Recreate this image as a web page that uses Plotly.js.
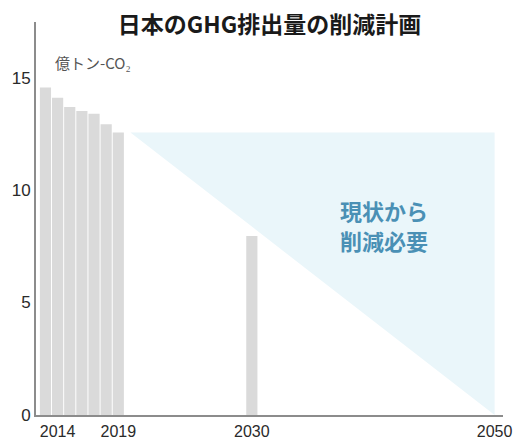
<!DOCTYPE html>
<html>
<head>
<meta charset="utf-8">
<script src="https://cdn.plot.ly/plotly-3.0.1.min.js"></script>
<style>html,body{margin:0;padding:0;background:#fff;}#chart{width:515px;height:441px;}</style>
</head>
<body>
<div id="chart"></div>
<script>
// Emissions (億トン-CO2)
const barYears = [2013, 2014, 2015, 2016, 2017, 2018, 2019, 2030];
const barValues = [14.56, 14.10, 13.69, 13.51, 13.39, 12.93, 12.56, 7.96];
// Reduction-needed wedge: from current level down to zero in 2050
const wedgeYears = [2020, 2050, 2050];
const wedgeValues = [12.56, 12.56, 0];
const xTickVals = [2014, 2019, 2030, 2050];
const xTickText = ['2014', '2019', '2030', '2050'];
const yTickVals = [0, 5, 10, 15];

const titleText = '日本のGHG排出量の削減計画';
const unitText = '億トン-CO₂';
const wedgeLines = ['現状から', '削減必要'];

const traces = [
  {
    type: 'scatter', mode: 'lines', x: wedgeYears, y: wedgeValues,
    fill: 'toself', fillcolor: '#eaf6fa', line: {width: 0}, hoverinfo: 'skip'
  },
  {
    type: 'bar', x: barYears, y: barValues, width: 0.92,
    marker: {color: '#dadada', line: {width: 0}}
  }
];

const layout = {
  width: 515, height: 441,
  margin: {l: 36, r: 12, t: 22, b: 26},
  paper_bgcolor: '#ffffff', plot_bgcolor: '#ffffff',
  showlegend: false,
  font: {family: 'Liberation Sans, Arial, sans-serif', color: '#333'},
  title: {
    text: titleText,
    font: {family: 'Noto Sans CJK JP', size: 23, color: '#1a1a1a', weight: 'bold'},
    xref: 'paper', x: 0.5, xanchor: 'center',
    yref: 'container', y: 0.943, yanchor: 'middle'
  },
  xaxis: {
    range: [2012.22, 2050.69],
    tickvals: xTickVals, ticktext: xTickText,
    showline: true, linecolor: '#8c8c8c', linewidth: 2,
    showgrid: false, zeroline: false, ticks: '',
    ticklabelstandoff: 1,
    tickfont: {size: 16, color: '#2a2a2a'},
    fixedrange: true
  },
  yaxis: {
    range: [0, 17.47],
    tickvals: yTickVals,
    showline: true, linecolor: '#8c8c8c', linewidth: 2,
    showgrid: false, zeroline: false, ticks: '',
    tickfont: {size: 17, color: '#2a2a2a'},
    fixedrange: true
  },
  annotations: [
    {
      text: unitText, xref: 'paper', yref: 'paper', x: 0.122, y: 0.898,
      showarrow: false, xanchor: 'center', yanchor: 'middle',
      font: {family: 'Noto Sans CJK JP', size: 15, color: '#555'}
    },
    {
      text: wedgeLines[0], xref: 'paper', yref: 'paper', x: 0.745, y: 0.5216,
      showarrow: false, xanchor: 'center', yanchor: 'middle',
      font: {family: 'Noto Sans CJK JP', size: 22, color: '#4a90b5', weight: 'bold'}
    },
    {
      text: wedgeLines[1], xref: 'paper', yref: 'paper', x: 0.745, y: 0.4453,
      showarrow: false, xanchor: 'center', yanchor: 'middle',
      font: {family: 'Noto Sans CJK JP', size: 22, color: '#4a90b5', weight: 'bold'}
    }
  ]
};

Plotly.newPlot('chart', traces, layout, {displayModeBar: false, staticPlot: true});
</script>
</body>
</html>
